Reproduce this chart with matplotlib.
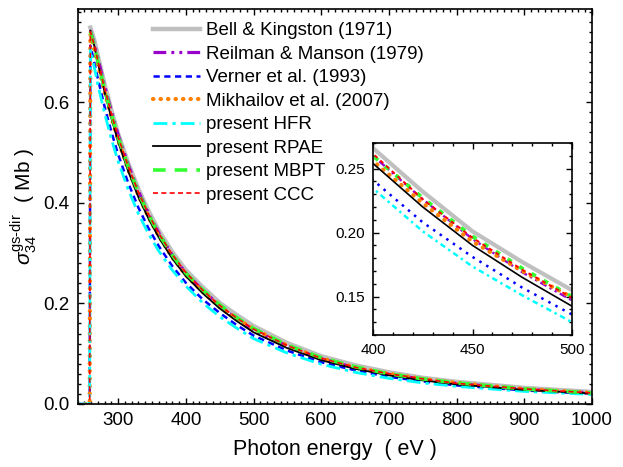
import numpy as np
import matplotlib
matplotlib.use("Agg")
import matplotlib.pyplot as plt
from matplotlib.ticker import MultipleLocator, FormatStrFormatter

plt.rcParams["font.family"] = ["Liberation Sans", "DejaVu Sans"]
plt.rcParams["mathtext.fontset"] = "custom"
plt.rcParams["mathtext.rm"] = "Liberation Sans"
plt.rcParams["mathtext.it"] = "Liberation Sans:italic"

# photon energies (eV); first two points are below threshold
energy = [240, 258, 259, 265, 270, 280, 290, 300, 315, 330, 345, 360, 380,
          400, 425, 450, 475, 500, 550, 600, 650, 700, 750, 800, 900, 1000]

bell = [0.748, 0.722, 0.692, 0.635, 0.584, 0.537, 0.478, 0.427, 0.383, 0.345,
        0.302, 0.266, 0.232, 0.201, 0.177, 0.155, 0.121, 0.095, 0.077, 0.063,
        0.052, 0.044, 0.032, 0.024]
reilman = [0.742, 0.715, 0.688, 0.632, 0.582, 0.535, 0.475, 0.423, 0.378, 0.340,
           0.296, 0.260, 0.226, 0.195, 0.169, 0.147, 0.115, 0.090, 0.072, 0.059,
           0.049, 0.041, 0.029, 0.022]
verner = [0, 0, 0.712, 0.678, 0.647, 0.591, 0.541, 0.496, 0.439, 0.390, 0.349,
          0.314, 0.274, 0.241, 0.208, 0.181, 0.157, 0.136, 0.106, 0.083, 0.067,
          0.054, 0.045, 0.037, 0.027, 0.020]
mikhailov = [0, 0, 0.735, 0.705, 0.675, 0.620, 0.570, 0.524, 0.466, 0.415, 0.371,
             0.334, 0.292, 0.256, 0.223, 0.193, 0.170, 0.1495, 0.116, 0.091,
             0.073, 0.060, 0.050, 0.042, 0.030, 0.022]
hfr = [0, 0, 0.705, 0.668, 0.635, 0.578, 0.527, 0.482, 0.426, 0.378, 0.338,
       0.304, 0.266, 0.2345, 0.201, 0.1735, 0.151, 0.130, 0.101, 0.079, 0.063,
       0.051, 0.042, 0.035, 0.025, 0.019]
rpae = [0.742, 0.711, 0.679, 0.620, 0.568, 0.521, 0.462, 0.411, 0.368, 0.331,
        0.289, 0.254, 0.220, 0.190, 0.165, 0.1425, 0.111, 0.087, 0.070, 0.057,
        0.047, 0.039, 0.028, 0.021]
mbpt = [0.740, 0.711, 0.681, 0.626, 0.576, 0.530, 0.471, 0.420, 0.376, 0.338,
        0.296, 0.260, 0.227, 0.197, 0.172, 0.150, 0.117, 0.092, 0.074, 0.060,
        0.050, 0.042, 0.030, 0.022]
ccc = [0, 0, 0.740, 0.712, 0.682, 0.627, 0.577, 0.531, 0.472, 0.421, 0.377,
       0.339, 0.297, 0.2616, 0.226, 0.196, 0.171, 0.149, 0.116, 0.091, 0.073,
       0.060, 0.050, 0.041, 0.030, 0.022]

e_thr = energy[2:]

# (label, x, y, main style, inset style)
series = [
    ("Bell & Kingston (1971)", e_thr, bell,
     dict(color="#c0c0c0", lw=3.2, ls="-"),
     dict(color="#c0c0c0", lw=3.0, ls="-")),
    ("Reilman & Manson (1979)", e_thr, reilman,
     dict(color="#9900cc", lw=2.3, dashes=(4, 1.6, 0.9, 1.6, 0.9, 1.6)),
     dict(color="#9900cc", lw=1.7, dashes=(3, 1.5, 1, 1.5, 1, 1.5))),
    ("Verner et al. (1993)", energy, verner,
     dict(color="#0000ff", lw=1.8, dashes=(2.5, 1.8)),
     dict(color="#0000ff", lw=1.8, dashes=(1, 2.2))),
    ("Mikhailov et al. (2007)", energy, mikhailov,
     dict(color="#ff8000", lw=3.0, dashes=(0.1, 1.7), dash_capstyle="round"),
     dict(color="#ff8000", lw=3.0, dashes=(0.1, 1.8), dash_capstyle="round")),
    ("present HFR", energy, hfr,
     dict(color="#00ffff", lw=2.0, dashes=(5, 1.8, 1.2, 1.8)),
     dict(color="#00ffff", lw=1.8, dashes=(2.2, 1.5, 1, 1.5))),
    ("present RPAE", e_thr, rpae,
     dict(color="black", lw=1.3, ls="-"),
     dict(color="black", lw=1.2, ls="-")),
    ("present MBPT", e_thr, mbpt,
     dict(color="#33ff33", lw=2.6, dashes=(3.5, 2.5)),
     dict(color="#33ff33", lw=2.8, dashes=(1.3, 2.3))),
    ("present CCC", energy, ccc,
     dict(color="#ff0000", lw=1.2, dashes=(3, 2)),
     dict(color="#ff0000", lw=1.4, dashes=(2, 2))),
]

fig = plt.figure(figsize=(6.23, 4.67), dpi=100)
ax = fig.add_axes([77.5 / 623, 63 / 467, 514.5 / 623, 395 / 467])

for label, x, y, style, _ in series:
    ax.plot(x, y, label=label, **style)

ax.set_xlim(240, 1000)
ax.set_ylim(0, 0.785)
ax.xaxis.set_major_locator(MultipleLocator(100))
ax.xaxis.set_minor_locator(MultipleLocator(10))
ax.yaxis.set_major_locator(MultipleLocator(0.2))
ax.yaxis.set_minor_locator(MultipleLocator(0.02))
ax.yaxis.set_major_formatter(FormatStrFormatter("%.1f"))
ax.tick_params(which="both", direction="in", top=True, right=True,
               labelsize=13.5, width=1.0)
ax.tick_params(which="major", length=4.5, pad=6)
ax.tick_params(which="minor", length=2.3)
for s in ax.spines.values():
    s.set_linewidth(1.2)

ax.set_xlabel("Photon energy  ( eV )", fontsize=15.5, labelpad=7)
ax.set_ylabel(r"$\sigma_{34}^{\mathrm{gs\text{-}dir}}$  ( Mb )", fontsize=15,
              labelpad=3)

ax.legend(loc="upper left", bbox_to_anchor=(0.147, 0.967), frameon=False,
          fontsize=13.5, handlelength=2.5, handletextpad=0.3, labelspacing=0.34,
          borderpad=0, borderaxespad=0)

# inset zoom 400-500 eV
ins = fig.add_axes([373 / 623, 132 / 467, 199 / 623, 192 / 467])
for label, x, y, _, style in series:
    ins.plot(x, y, **style)
ins.set_xlim(400, 500)
ins.set_ylim(0.12, 0.27)
ins.xaxis.set_major_locator(MultipleLocator(50))
ins.xaxis.set_minor_locator(MultipleLocator(10))
ins.yaxis.set_major_locator(MultipleLocator(0.05))
ins.yaxis.set_minor_locator(MultipleLocator(0.01))
ins.tick_params(which="both", direction="in", top=True, right=True,
                labelsize=11, width=1.0)
ins.tick_params(which="major", length=4, pad=6)
ins.tick_params(which="minor", length=2.2)
for s in ins.spines.values():
    s.set_linewidth(1.2)

fig.savefig("out.png", dpi=100)
